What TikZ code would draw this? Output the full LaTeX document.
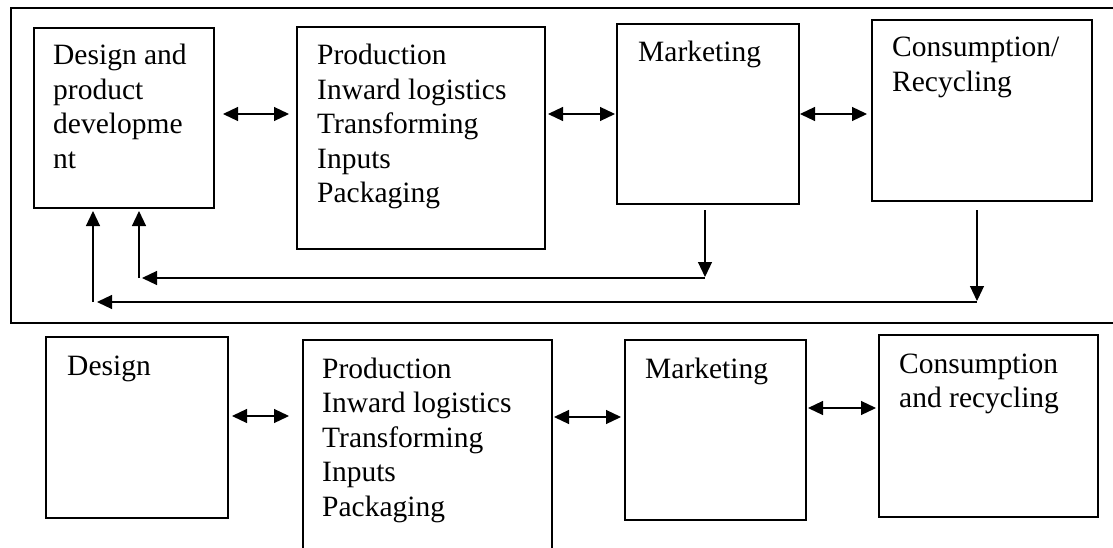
\documentclass[tikz,border=0pt]{standalone}
\usepackage{fontspec}
\setmainfont{Liberation Serif}
\usetikzlibrary{arrows.meta,calc}
\tikzset{
  box/.style={draw, line width=1.5pt, rectangle, inner sep=0pt, outer sep=0pt, anchor=north west},
  lbl/.style={inner sep=0pt, anchor=base west, font=\fontsize{29.5}{34.5}\selectfont},
  dbl/.style={line width=1.2pt, {Triangle[length=15pt,width=14pt]}-{Triangle[length=15pt,width=14pt]}},
  arr/.style={line width=1.2pt, -{Triangle[length=15pt,width=14pt]}},
  frame/.style={line width=1.5pt}
}
\newcommand{\lines}[1]{\begin{tabular}[t]{@{}l@{}}#1\end{tabular}}
\begin{document}
\begin{tikzpicture}[x=1pt,y=-1pt]
\clip (0,0) rectangle (1113,548);
\fill[white] (0,0) rectangle (1113,548);
% frame
\draw[frame] (1113,8) -- (11,8) -- (11,323) -- (1113,323);
% top row
\node[box, minimum width=180pt, minimum height=180pt] (b1) at (34,28) {};
\node[box, minimum width=248pt, minimum height=222pt] (b2) at (297,27) {};
\node[box, minimum width=182pt, minimum height=180pt] (b3) at (617,24) {};
\node[box, minimum width=220pt, minimum height=181pt] (b4) at (872,20) {};
\node[lbl] (t1) at ($(b1.north west)+(19,37)$) {\lines{Design and\\product\\developme\\nt}};
\node[lbl] (t2) at ($(b2.north west)+(20,38)$) {\lines{Production\\Inward logistics\\Transforming\\Inputs\\Packaging}};
\node[lbl] (t3) at ($(b3.north west)+(21,38)$) {\lines{Marketing}};
\node[lbl] (t4) at ($(b4.north west)+(20,37)$) {\lines{Consumption/\\Recycling}};
\draw[dbl, shorten <=9pt, shorten >=8pt] (b1.east |- 0,114) -- (b2.west |- 0,114);
\draw[dbl, shorten <=3pt, shorten >=2pt] (b2.east |- 0,114) -- (b3.west |- 0,114);
\draw[dbl, shorten <=1pt, shorten >=5pt] (b3.east |- 0,114) -- (b4.west |- 0,114);
% feedback loops
\coordinate (m1) at (705,278);
\coordinate (m2) at (139,278);
\coordinate (c1) at (977,302);
\coordinate (c2) at (93,302);
\draw[arr, shorten <=6pt, shorten >=1pt] (b3.south -| m1) -- (m1);
\draw[arr, shorten >=3pt] (m1) -- (m2);
\draw[arr, shorten >=3pt] (m2) -- (b1.south -| m2);
\draw[arr, shorten <=9pt, shorten >=1pt] (b4.south -| c1) -- (c1);
\draw[arr, shorten >=4pt] (c1) -- (c2);
\draw[arr, shorten >=3pt] (c2) -- (b1.south -| c2);
% bottom row
\node[box, minimum width=182pt, minimum height=181pt] (b5) at (46,337) {};
\node[box, minimum width=249pt, minimum height=240pt] (b6) at (303,340) {};
\node[box, minimum width=181pt, minimum height=180pt] (b7) at (625,340) {};
\node[box, minimum width=219pt, minimum height=182pt] (b8) at (879,335) {};
\node[lbl] (t5) at ($(b5.north west)+(21,38)$) {\lines{Design}};
\node[lbl] (t6) at ($(b6.north west)+(19,38)$) {\lines{Production\\Inward logistics\\Transforming\\Inputs\\Packaging}};
\node[lbl] (t7) at ($(b7.north west)+(20,38)$) {\lines{Marketing}};
\node[lbl] (t8) at ($(b8.north west)+(20,38)$) {\lines{Consumption\\and recycling}};
\draw[dbl, shorten <=4pt, shorten >=14pt] (b5.east |- 0,416) -- (b6.west |- 0,416);
\draw[dbl, shorten <=2pt, shorten >=4pt] (b6.east |- 0,417) -- (b7.west |- 0,417);
\draw[dbl, shorten <=2pt, shorten >=3pt] (b7.east |- 0,408) -- (b8.west |- 0,408);
\end{tikzpicture}
\end{document}
